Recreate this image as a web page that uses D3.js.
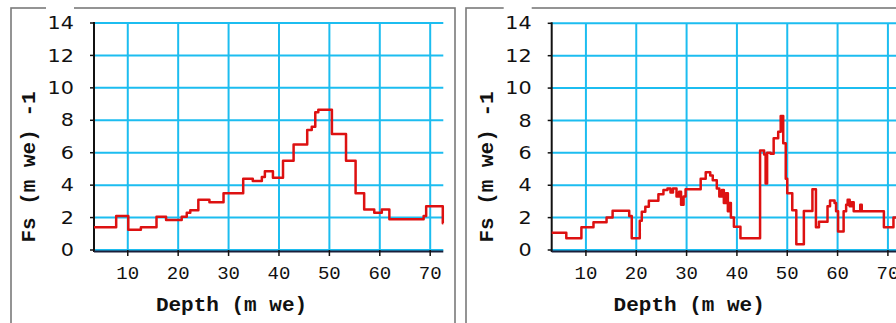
<!DOCTYPE html>
<html>
<head>
<meta charset="utf-8">
<script src="https://cdn.jsdelivr.net/npm/d3@7"></script>
<style>
    body { margin: 0; background: #fff; }
    svg { display: block; }
    .tick-y { font-family: "DejaVu Sans", Verdana, sans-serif; font-size: 17px; fill: #111; }
    .tick-x { font-family: "Liberation Mono", "Courier New", monospace; font-size: 19px; fill: #111; }
    .axis-title { font-family: "Liberation Mono", "Courier New", monospace; font-size: 21px; font-weight: bold; fill: #111; }
</style>
</head>
<body>
<div id="chart"></div>
<script>
// y ticks shared by both panels
var yTicks = [0, 2, 4, 6, 8, 10, 12, 14];
var xTicks = [10, 20, 30, 40, 50, 60, 70];
var xTitle = 'Depth (m we)';
var yTitle = 'Fs (m we) -1';

// left panel: step profile (depth where each level starts, level value)
var leftDepth = [3.3, 7.7, 10.1, 12.6, 15.7, 17.6, 20.7, 21.7, 22.4, 24.0, 26.2, 29.0, 32.9, 34.8, 36.6, 37.2,
    38.8, 40.8, 42.9, 45.6, 46.5, 47.2, 47.8, 50.5, 53.3, 55.2, 56.9, 58.9, 60.4, 61.9, 68.7, 69.2, 72.5, 72.6];
var leftFs = [1.4, 2.1, 1.25, 1.4, 2.05, 1.85, 2.05, 2.3, 2.45, 3.1, 2.95, 3.5, 4.4, 4.25, 4.5, 4.85,
    4.45, 5.5, 6.5, 7.4, 7.6, 8.5, 8.65, 7.15, 5.5, 3.5, 2.5, 2.3, 2.5, 1.9, 2.1, 2.7, 1.65, 1.65];

// right panel: jagged step profile
var rightDepth = [3.2, 6.1, 9.1, 11.5, 14.1, 15.3, 18.6, 19.1, 20.7, 21.1, 21.8, 22.5, 24.4, 25.4, 26.2, 26.8,
    27.3, 28.0, 28.5, 28.9, 29.4, 29.8, 32.8, 33.8, 34.7, 35.2, 36.0, 36.5, 37.0, 37.4, 37.8, 38.2, 38.5,
    38.8, 39.4, 40.7, 44.6, 45.4, 45.7, 46.0, 46.7, 47.3, 48.2, 48.7, 49.2, 49.7, 50.0, 51.0, 51.8, 53.3,
    55.0, 55.7, 56.3, 58.0, 58.5, 59.4, 59.7, 60.1, 61.2, 61.7, 62.0, 62.4, 62.8, 63.2, 64.5, 64.8, 69.2,
    71.1, 72.6];
var rightFs = [1.07, 0.72, 1.4, 1.71, 2.0, 2.42, 2.1, 0.72, 1.8, 2.36, 2.67, 3.04, 3.45, 3.7, 3.8, 3.55,
    3.8, 3.3, 3.6, 2.8, 3.3, 3.75, 4.4, 4.8, 4.6, 4.3, 3.8, 3.3, 3.7, 2.9, 3.5, 2.4, 2.9,
    2.0, 1.44, 0.72, 6.15, 5.9, 4.1, 6.0, 5.95, 6.9, 7.3, 8.27, 6.6, 4.4, 3.5, 2.45, 0.35, 2.41,
    3.75, 1.4, 1.75, 2.7, 3.05, 2.9, 2.4, 1.15, 2.4, 2.8, 3.1, 2.7, 2.95, 2.4, 2.8, 2.4, 1.4,
    2.0, 2.0];

var width = 896,
    height = 323;

var svg = d3.select('#chart')
    .append('svg')
    .attr('width', width)
    .attr('height', height);

svg.append('rect')
    .attr('width', width)
    .attr('height', height)
    .attr('fill', '#fff');

var drawPanel = function (opts, depth, fs) {
    var g = svg.append('g');

    var x = d3.scaleLinear()
        .domain([opts.xMin, opts.xMax])
        .range([opts.left, opts.right]);
    var y = d3.scaleLinear()
        .domain([0, 14])
        .range([opts.bottom, opts.top]);

    // frame
    g.append('rect')
        .attr('x', opts.frameX)
        .attr('y', 8)
        .attr('width', opts.frameW)
        .attr('height', 340)
        .attr('fill', 'none')
        .attr('stroke', '#7a7a7a')
        .attr('stroke-width', 1.6);

    // grid
    g.selectAll('.hgrid')
        .data(yTicks)
        .enter()
        .append('line')
        .attr('x1', x.range()[0])
        .attr('x2', x.range()[1])
        .attr('y1', function (d) { return y(d); })
        .attr('y2', function (d) { return y(d); })
        .attr('stroke', '#1cbdf0')
        .attr('stroke-width', 2);

    g.selectAll('.vgrid')
        .data(xTicks)
        .enter()
        .append('line')
        .attr('x1', function (d) { return x(d); })
        .attr('x2', function (d) { return x(d); })
        .attr('y1', y(14))
        .attr('y2', y(0))
        .attr('stroke', '#1cbdf0')
        .attr('stroke-width', 2);

    // axis lines and ticks
    g.append('line')
        .attr('x1', x.range()[0])
        .attr('x2', x.range()[0])
        .attr('y1', y(14) - 1)
        .attr('y2', y(0) + 2)
        .attr('stroke', '#111')
        .attr('stroke-width', 2);

    g.append('line')
        .attr('x1', x.range()[0])
        .attr('x2', x.range()[1])
        .attr('y1', y(0) + 1.5)
        .attr('y2', y(0) + 1.5)
        .attr('stroke', '#1a1f3a')
        .attr('stroke-width', 2);

    g.selectAll('.ytick')
        .data(yTicks)
        .enter()
        .append('line')
        .attr('x1', x.range()[0] - 4)
        .attr('x2', x.range()[0])
        .attr('y1', function (d) { return y(d); })
        .attr('y2', function (d) { return y(d); })
        .attr('stroke', '#111')
        .attr('stroke-width', 1.5);

    g.selectAll('.xtick')
        .data(xTicks)
        .enter()
        .append('line')
        .attr('x1', function (d) { return x(d); })
        .attr('x2', function (d) { return x(d); })
        .attr('y1', y(0))
        .attr('y2', y(0) + 6)
        .attr('stroke', '#111')
        .attr('stroke-width', 1.5);

    // y tick labels, white box behind so the top one cuts the frame
    var ylab = g.selectAll('.ylab')
        .data(yTicks)
        .enter()
        .append('g')
        .attr('transform', function (d) {
            return 'translate(' + (x.range()[0] - 20) + ',' + y(d) + ')';
        });

    ylab.append('rect')
        .attr('x', -28)
        .attr('y', function (d) { return d === 14 ? -17 : -9; })
        .attr('width', 28)
        .attr('height', function (d) { return d === 14 ? 26 : 18; })
        .attr('fill', '#fff');

    ylab.append('text')
        .attr('class', 'tick-y')
        .attr('text-anchor', 'end')
        .attr('dy', '0.36em')
        .attr('transform', 'scale(1.22,1)')
        .text(function (d) { return d; });

    g.selectAll('.xlab')
        .data(xTicks)
        .enter()
        .append('text')
        .attr('class', 'tick-x')
        .attr('text-anchor', 'middle')
        .attr('x', function (d) { return x(d); })
        .attr('y', 279)
        .text(function (d) { return d; });

    g.append('text')
        .attr('class', 'axis-title')
        .attr('text-anchor', 'middle')
        .attr('x', x.range()[0] + 137.5)
        .attr('y', 311)
        .text(xTitle);

    g.append('text')
        .attr('class', 'axis-title')
        .attr('text-anchor', 'middle')
        .attr('transform', 'translate(' + (x.range()[0] - 59) + ',167) rotate(-90)')
        .text(yTitle);

    // profile
    var pts = depth.map(function (d, i) { return [d, fs[i]]; });
    var line = d3.line()
        .x(function (d) { return x(d[0]); })
        .y(function (d) { return y(d[1]); })
        .curve(d3.curveStepAfter);

    g.append('path')
        .datum(pts)
        .attr('d', line)
        .attr('fill', 'none')
        .attr('stroke', '#dd1111')
        .attr('stroke-width', 2.5)
        .attr('stroke-linejoin', 'round');
};

drawPanel({ frameX: 11, frameW: 444, left: 94, right: 443.3, top: 23, bottom: 250, xMin: 3.3, xMax: 72.6 },
    leftDepth, leftFs);
drawPanel({ frameX: 466, frameW: 450, left: 551.7, right: 901, top: 23.3, bottom: 250, xMin: 3.2, xMax: 72.6 },
    rightDepth, rightFs);
</script>
</body>
</html>
